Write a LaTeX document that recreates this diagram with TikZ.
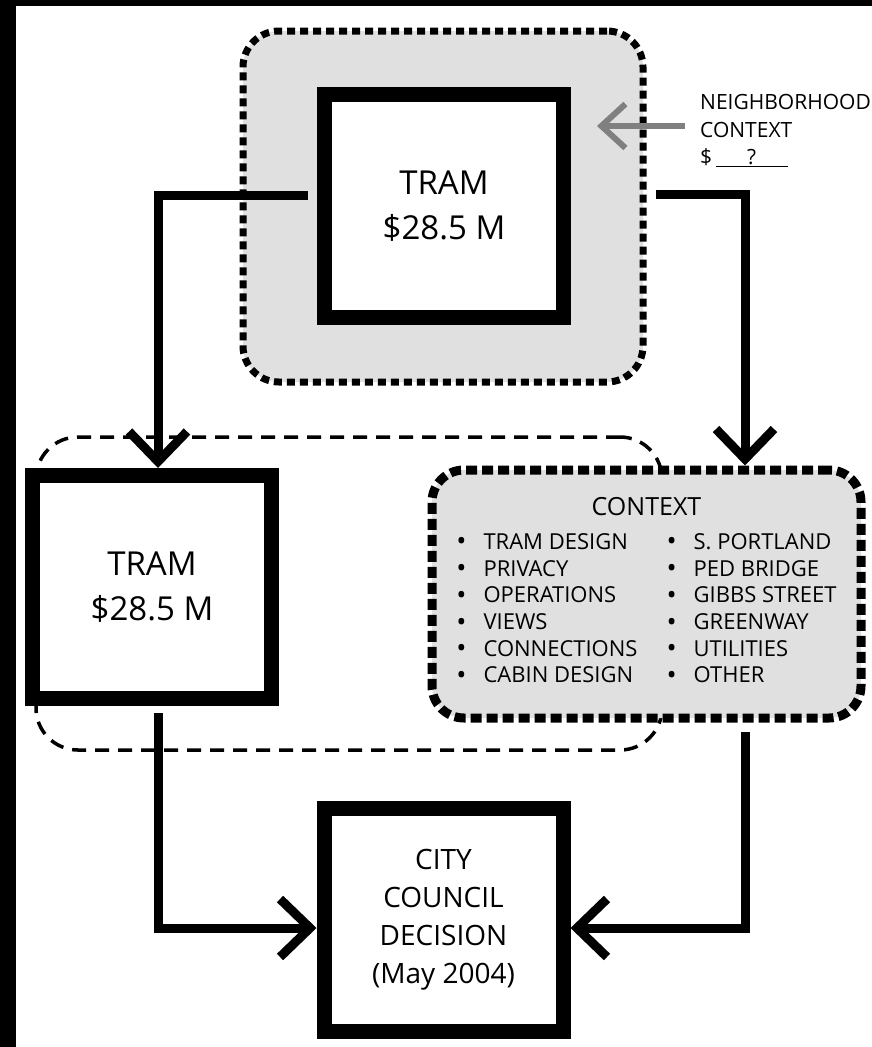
\documentclass[tikz,border=0pt]{standalone}
\usepackage{fontspec}
\setmainfont{Open Sans}
\usepackage{tikz}
\usetikzlibrary{arrows.meta}

\newcommand{\bul}{\raisebox{-1.5pt}{\fontsize{27}{26.7}\selectfont\textbullet}}

\tikzset{
  trambox/.style={draw, line width=15pt, fill=white, minimum width=239pt, minimum height=223pt, inner sep=0pt, align=center},
  dotgroup/.style={draw, fill=black!12, line width=7pt, dash pattern=on 8pt off 5pt, rounded corners=36pt, inner sep=0pt},
  conn/.style={line width=9pt, -{Straight Barb[length=30pt,width=58pt]}},
}

\begin{document}
\begin{tikzpicture}[x=1pt, y=-1pt]
  \useasboundingbox (0,0) rectangle (872,1047);
  % Draw the frame
  \fill[black] (0,0) rectangle (872,6);
  \fill[black] (0,0) rectangle (16,1047);

  % Draw the dashed outline round the lower boxes
  \node[draw, line width=3.5pt, dash pattern=on 14pt off 9pt, rounded corners=42pt, minimum width=626pt, minimum height=313pt, inner sep=0pt] (lowgrp) at (349,593.5) {};

  % Draw the shaded groups
  \node[dotgroup, minimum width=400pt, minimum height=351pt] (topgrp) at (443,206.5) {};
  \node[dotgroup, line width=9pt, dash pattern=on 11pt off 5pt, rounded corners=32pt, minimum width=429pt, minimum height=248pt, font=\fontsize{22}{26.7}\selectfont] (ctx) at (646.5,594) {%
    \begin{tabular}{@{}l@{\hspace{17pt}}l@{\hspace{29pt}}l@{\hspace{17pt}}l@{}}
      \multicolumn{4}{c}{\fontsize{25}{30}\selectfont CONTEXT}\\[7pt]
      \bul & TRAM DESIGN & \bul & S. PORTLAND\\
      \bul & PRIVACY & \bul & PED BRIDGE\\
      \bul & OPERATIONS & \bul & GIBBS STREET\\
      \bul & VIEWS & \bul & GREENWAY\\
      \bul & CONNECTIONS & \bul & UTILITIES\\
      \bul & CABIN DESIGN & \bul & OTHER
    \end{tabular}};

  % Draw the boxes
  \node[trambox, font=\fontsize{33}{45}\selectfont] (ttram) at (444,206) {TRAM\\\$28.5 M};
  \node[trambox, font=\fontsize{33}{45}\selectfont] (ltram) at (152,587) {TRAM\\\$28.5 M};
  \node[trambox, font=\fontsize{28}{38}\selectfont] (city) at (443.5,919.5) {CITY\\COUNCIL\\DECISION\\(May 2004)};

  % Draw the connectors
  \draw[conn] ([shift={(-9pt,11pt)}]ttram.west) -| ([xshift=6pt]ltram.north);
  \draw[conn] ([shift={(9.5pt,12pt)}]topgrp.east) -| ([xshift=98.5pt]ctx.north);
  \draw[conn] ([shift={(6pt,-7pt)}]ltram.south) |- ([yshift=-8.5pt]city.west);
  \draw[conn] ([shift={(98.5pt,-9pt)}]ctx.south) |- ([yshift=-8.5pt]city.east);

  % Neighborhood label
  \node[anchor=west, align=left, inner sep=0pt, font=\fontsize{21}{27.5}\selectfont] (nbh) at (700,131) {NEIGHBORHOOD\\CONTEXT\\\$\,\underline{\makebox[72pt]{?}}};
  \coordinate (ntip) at (597,126);
  \draw[line width=6pt, black!50, -{Straight Barb[length=24pt,width=44pt]}] ([shift={(-15pt,5pt)}]nbh.west) -- (ntip);
\end{tikzpicture}
\end{document}
